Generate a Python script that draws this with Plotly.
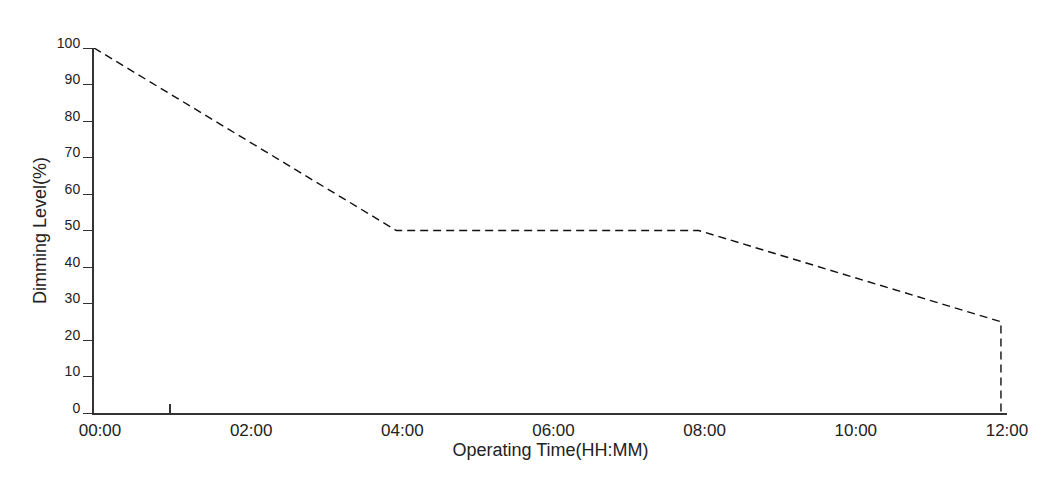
import plotly.graph_objects as go

# Data
time_hours = [0, 4, 8, 12, 12]
dimming_level = [100, 50, 50, 25, 0]
x_tick_vals = [0, 2, 4, 6, 8, 10, 12]
x_tick_text = ["00:00", "02:00", "04:00", "06:00", "08:00", "10:00", "12:00"]
y_tick_vals = [0, 10, 20, 30, 40, 50, 60, 70, 80, 90, 100]
minor_tick_vals = [1]

FONT = "Liberation Sans, Arial, sans-serif"

fig = go.Figure()
fig.add_trace(go.Scatter(
    x=time_hours, y=dimming_level, mode="lines",
    line=dict(color="#111111", width=1.4, dash="8px,5px"),
    showlegend=False, hoverinfo="skip",
))
# invisible trace to carry the overlay axis with the single inner tick
fig.add_trace(go.Scatter(x=[0], y=[0], xaxis="x2", mode="markers",
                         marker=dict(opacity=0), showlegend=False, hoverinfo="skip"))

fig.update_layout(
    width=1060, height=502,
    margin=dict(l=86, r=61, t=40, b=97),
    paper_bgcolor="white", plot_bgcolor="white",
    font=dict(family=FONT, color="#222222"),
    xaxis=dict(
        range=[0, 12.08], tickvals=x_tick_vals, ticktext=x_tick_text, automargin=False,
        showgrid=False, zeroline=False, showline=True, linecolor="#333333", linewidth=1.5,
        ticks="", tickfont=dict(size=17, family=FONT, color="#222222"),
        ticklabelshift=6, ticklabelstandoff=1,
        title=dict(text="Operating Time(HH:MM)", font=dict(size=18, family=FONT, color="#222222"), standoff=1),
    ),
    xaxis2=dict(
        overlaying="x", anchor="y", side="bottom", matches="x", automargin=False,
        tickvals=minor_tick_vals, ticks="inside", ticklen=9, tickwidth=1.5, tickcolor="#333333",
        showticklabels=False, showgrid=False, zeroline=False, showline=False,
    ),
    yaxis=dict(
        range=[0, 100], tickvals=y_tick_vals, automargin=False,
        showgrid=False, zeroline=False, showline=True, linecolor="#333333", linewidth=2,
        ticks="outside", ticklen=9, tickwidth=1.2, tickcolor="#333333",
        ticklabelposition="outside", ticklabelshift=-5,
        tickfont=dict(size=14, family=FONT, color="#222222"),
        title=dict(text="Dimming Level(%)", font=dict(size=18, family=FONT, color="#222222"), standoff=6),
    ),
)

fig.write_html("out.html")
